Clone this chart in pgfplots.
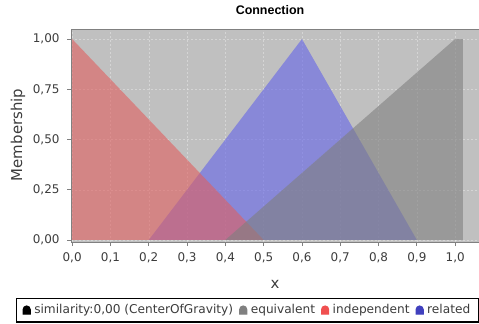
\documentclass[border=0pt]{standalone}
\usepackage{fontspec}
\setmainfont{DejaVu Sans}
\newfontfamily\titlefont{Liberation Sans}
\usepackage{pgfplots}
\pgfplotsset{compat=1.18}
\definecolor{bgc}{RGB}{192,192,192}
\definecolor{redc}{RGB}{224,95,95}
\definecolor{bluec}{RGB}{99,99,232}
\definecolor{grayc}{RGB}{127,127,127}
\definecolor{redm}{RGB}{240,80,80}
\definecolor{bluem}{RGB}{64,64,190}
\definecolor{graym}{RGB}{128,128,128}
\definecolor{framec}{RGB}{128,128,128}
\definecolor{textc}{RGB}{60,60,60}

\begin{document}
\begin{tikzpicture}
\begin{axis}[
  at={(71bp,82bp)}, anchor=south west,
  scale only axis, width=420bp, height=212bp,
  xmin=-0.003, xmax=1.0936, ymin=-0.01, ymax=1.045,
  axis background/.style={fill=bgc},
  axis line style={draw=framec, line width=1bp},
  tick style={draw=framec, line width=0.8bp},
  tick align=outside, major tick length=4bp,
  xtick={0,0.1,0.2,0.3,0.4,0.5,0.6,0.7,0.8,0.9,1.0},
  ytick={0,0.25,0.5,0.75,1},
  xtick pos=bottom, ytick pos=left,
  grid=major,
  major grid style={draw=white, dash pattern=on 2bp off 2bp, line width=0.5bp, opacity=0.35},
  /pgf/number format/assume math mode=true,
  xticklabel style={/pgf/number format/.cd, fixed, fixed zerofill, precision=1, use comma, /tikz/.cd, yshift=-3bp},
  yticklabel style={/pgf/number format/.cd, fixed, fixed zerofill, precision=2, use comma, /tikz/.cd, xshift=-4bp},
  tick label style={font=\fontsize{12}{14}\selectfont, text=textc},
  xlabel={x}, ylabel={Membership},
  label style={font=\fontsize{15}{17}\selectfont, text=textc},
  xlabel style={at={(axis description cs:0.486,-0.198)}, anchor=center},
  ylabel style={at={(axis description cs:-0.126,0.505)}, anchor=center},
  legend columns=-1,
  legend image code/.code={\fill[#1] (0bp,-4bp) -- (0bp,0.5bp) arc[start angle=180,end angle=0,radius=3.5bp] -- (7bp,-4bp) -- cycle;},
  legend style={at={(axis description cs:-0.131,-0.321)}, anchor=west,
    draw=black, line width=1.2bp, fill=white,
    font=\fontsize{12.2}{13}\selectfont, text=textc,
    inner xsep=6bp, inner ysep=4.5bp,
    /tikz/every odd column/.append style={column sep=1.5bp},
    /tikz/every even column/.append style={column sep=4bp}},
]
\addplot[forget plot, draw=none, fill=bluec, fill opacity=0.6] coordinates {(0.2,0) (0.6,1) (0.9,0)} \closedcycle;
\addplot[forget plot, draw=none, fill=redc, fill opacity=0.6] coordinates {(0,1) (0.5,0)} \closedcycle;
\addplot[forget plot, draw=none, fill=grayc, fill opacity=0.6] coordinates {(0.4,0) (1.0,1) (1.02,1) (1.02,0)} \closedcycle;
\addlegendimage{black}
\addlegendentry{similarity:0,00 (CenterOfGravity)}
\addlegendimage{graym}
\addlegendentry{equivalent}
\addlegendimage{redm}
\addlegendentry{independent}
\addlegendimage{bluem}
\addlegendentry{related\hspace{30bp}}
\end{axis}
\node[font=\titlefont\bfseries\fontsize{12.5}{14}\selectfont] at (270bp,314bp) {Connection};
\pgfresetboundingbox
\useasboundingbox (0,0) rectangle (479bp,324bp);
\end{tikzpicture}
\end{document}
